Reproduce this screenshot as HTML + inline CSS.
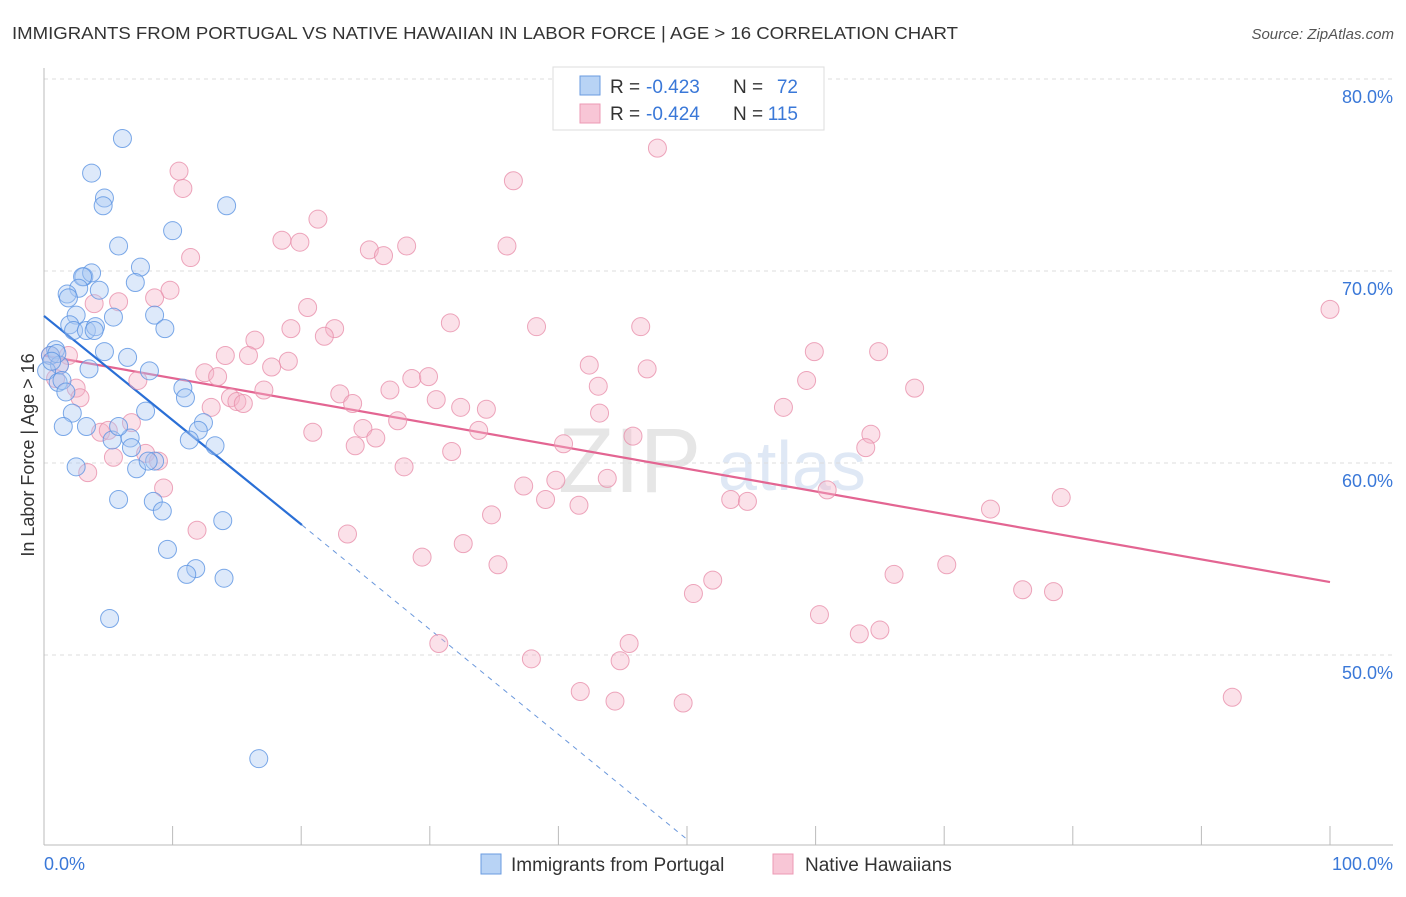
<!DOCTYPE html>
<html><head><meta charset="utf-8"><style>
body{margin:0;background:#fff;font-family:"Liberation Sans",sans-serif}
svg text{font-family:"Liberation Sans",sans-serif}
</style></head><body>
<svg id="chart" width="1406" height="892">
<text x="12" y="39" font-size="17.5" fill="#333" textLength="946" lengthAdjust="spacingAndGlyphs">IMMIGRANTS FROM PORTUGAL VS NATIVE HAWAIIAN IN LABOR FORCE | AGE &gt; 16 CORRELATION CHART</text>
<text x="1394" y="39" font-size="15" fill="#555" text-anchor="end" font-style="italic">Source: ZipAtlas.com</text>
<text x="558" y="492" font-size="92" fill="#e6e6e6" font-family="Liberation Serif">ZIP</text>
<text x="718" y="490" font-size="70" fill="#dfe8f5">atlas</text>
<g id="grid"></g><g id="axes"></g><g id="trend"></g><g id="pts"></g>
<text transform="translate(34,455) rotate(-90)" font-size="18" fill="#333" text-anchor="middle">In Labor Force | Age &gt; 16</text>
<g>
<rect x="553" y="67" width="271" height="63" fill="#fff" stroke="#ddd"/>
<rect x="580" y="76" width="20" height="19" fill="#b8d3f5" stroke="#6a9be0"/>
<rect x="580" y="104" width="20" height="19" fill="#f8c6d6" stroke="#ec9ab4"/>
<text x="610" y="93" font-size="19" fill="#333">R =</text>
<text x="646" y="93" font-size="19" fill="#3a78d8">-0.423</text>
<text x="733" y="93" font-size="19" fill="#333">N =</text>
<text x="798" y="93" font-size="19" fill="#3a78d8" text-anchor="end">72</text>
<text x="610" y="120" font-size="19" fill="#333">R =</text>
<text x="646" y="120" font-size="19" fill="#3a78d8">-0.424</text>
<text x="733" y="120" font-size="19" fill="#333">N =</text>
<text x="798" y="120" font-size="19" fill="#3a78d8" text-anchor="end">115</text>
</g>
<g>
<rect x="481" y="854" width="20" height="20" fill="#b8d3f5" stroke="#6a9be0"/>
<text x="511" y="871" font-size="19" fill="#333">Immigrants from Portugal</text>
<rect x="773" y="854" width="20" height="20" fill="#f8c6d6" stroke="#ec9ab4"/>
<text x="805" y="871" font-size="19" fill="#333">Native Hawaiians</text>
</g>
</svg>
<script>
const yTicks=[50,60,70,80];
const yTickLabels=["50.0%","60.0%","70.0%","80.0%"];
const xLabels=["0.0%","100.0%"];
const blueX=[6.1,3.7,4.7,4.6,14.2,10.0,5.8,7.5,3.1,3.7,3.0,7.1,4.3,2.7,1.8,1.9,5.4,8.6,2.5,2.0,2.3,3.3,4.0,3.9,9.4,4.7,6.5,3.5,8.2,0.9,0.5,1.2,0.2,1.1,1.4,1.7,10.8,11.0,7.9,2.2,5.3,1.5,3.3,6.7,5.8,12.4,12.0,11.3,6.8,13.3,2.5,7.2,8.6,8.1,5.8,8.5,9.2,13.9,9.6,11.8,11.1,14.0,5.1,16.7,1.0,0.6];
const blueY=[76.9,75.1,73.8,73.4,73.4,72.1,71.3,70.2,69.7,69.9,69.7,69.4,69.0,69.1,68.8,68.6,67.6,67.7,67.7,67.2,66.9,66.9,67.1,66.9,67.0,65.8,65.5,64.9,64.8,65.9,65.6,65.1,64.8,64.2,64.3,63.7,63.9,63.4,62.7,62.6,61.2,61.9,61.9,61.3,61.9,62.1,61.7,61.2,60.8,60.9,59.8,59.7,60.1,60.1,58.1,58.0,57.5,57.0,55.5,54.5,54.2,54.0,51.9,44.6,65.7,65.3];
const pinkX=[47.7,10.5,10.8,36.5,21.3,18.5,19.9,25.3,28.2,36.0,26.4,11.4,9.8,5.8,8.6,3.9,20.5,100,31.6,38.3,46.4,19.2,22.6,21.8,16.4,14.1,15.9,1.9,59.9,64.9,19.0,42.4,46.9,17.7,12.5,13.5,28.6,29.9,59.3,67.7,7.3,43.1,2.5,17.1,26.9,23.0,14.5,15.0,15.5,30.5,24.0,13.0,32.4,34.4,43.2,57.5,27.5,2.8,64.3,45.8,33.8,20.9,6.8,24.8,4.4,5.0,25.8,24.2,63.9,40.4,31.7,7.9,5.4,8.9,28.0,3.4,43.8,39.8,37.3,9.3,60.9,39.0,53.4,54.7,41.6,34.8,73.6,79.1,11.9,23.6,32.6,29.4,35.3,70.2,66.1,52.0,50.5,76.1,78.5,60.3,45.5,30.7,65.0,63.4,37.9,44.8,41.7,44.4,49.7,92.4,0.5,1.2,0.9];
const pinkY=[76.4,75.2,74.3,74.7,72.7,71.6,71.5,71.1,71.3,71.3,70.8,70.7,69.0,68.4,68.6,68.3,68.1,68.0,67.3,67.1,67.1,67.0,67.0,66.6,66.4,65.6,65.6,65.6,65.8,65.8,65.3,65.1,64.9,65.0,64.7,64.5,64.4,64.5,64.3,63.9,64.3,64.0,63.9,63.8,63.8,63.6,63.4,63.2,63.1,63.3,63.1,62.9,62.9,62.8,62.6,62.9,62.2,63.4,61.5,61.4,61.7,61.6,62.1,61.8,61.6,61.7,61.3,60.9,60.8,61.0,60.6,60.5,60.3,60.1,59.8,59.5,59.2,59.1,58.8,58.7,58.6,58.1,58.1,58.0,57.8,57.3,57.6,58.2,56.5,56.3,55.8,55.1,54.7,54.7,54.2,53.9,53.2,53.4,53.3,52.1,50.6,50.6,51.3,51.1,49.8,49.7,48.1,47.6,47.5,47.8,65.6,65.1,64.4];
const blueTrend=[[0,67.66],[20.06,56.77]];
const blueTrendExt=[[20.06,56.77],[50,40.4]];
const pinkTrend=[[0,65.6],[100,53.8]];
const NS="http://www.w3.org/2000/svg";
const sx=v=>44+v*12.86, sy=v=>463-(v-60)*19.2;
function mk(t,a,p){const e=document.createElementNS(NS,t);for(const k in a)e.setAttribute(k,a[k]);document.getElementById(p).appendChild(e);return e;}
yTicks.forEach((t,i)=>{
 const g=mk('line',{x1:44,x2:1393,y1:sy(t),y2:sy(t),stroke:'#ddd','stroke-dasharray':'4,4'},'grid');
 
 
 const l=mk('text',{x:1393,y:sy(t)+24,'font-size':18,fill:'#3a78d8','text-anchor':'end'},'axes');
 l.textContent=yTickLabels[i];
 
 
});
const ax=mk('line',{x1:44,x2:44,y1:68,y2:845,stroke:'#bbb'},'axes');


const bx=mk('line',{x1:44,x2:1393,y1:845,y2:845,stroke:'#bbb'},'axes');


for(let i=0;i<=10;i++){const t=mk('line',{x1:sx(i*10),x2:sx(i*10),y1:826,y2:845,stroke:'#bbb'},'axes');
 
 }
[[0,'start'],[100,'end']].forEach((p,i)=>{const t=mk('text',{x:i?1393:44,y:870,'font-size':18,fill:'#3a78d8','text-anchor':p[1]},'axes');t.textContent=xLabels[i];
 
 });
function dot(x,y,f,s,n){const c=mk('circle',{cx:sx(x),cy:sy(y),r:9,fill:f,'fill-opacity':0.4,stroke:s,'stroke-width':1,'stroke-opacity':0.8},'pts');
 
 }
pinkX.forEach((x,i)=>dot(x,pinkY[i],'#f5b5c9','#e990ab','native-hawaiian-point'));
blueX.forEach((x,i)=>dot(x,blueY[i],'#a9c9f2','#5b93e2','portugal-point'));
function ln(p,c,w,d,n){const l=mk('line',{x1:sx(p[0][0]),y1:sy(p[0][1]),x2:sx(p[1][0]),y2:sy(p[1][1]),stroke:c,'stroke-width':w},'trend');if(d)l.setAttribute('stroke-dasharray',d);
 
 }
ln(pinkTrend,'#e36592',2.2,null,'native-hawaiian-trendline');
ln(blueTrend,'#2a6fd6',2.2,null,'portugal-trendline');
ln(blueTrendExt,'#6b98dc',1,'5,5','portugal-trendline-extension');
</script>
</body></html>
